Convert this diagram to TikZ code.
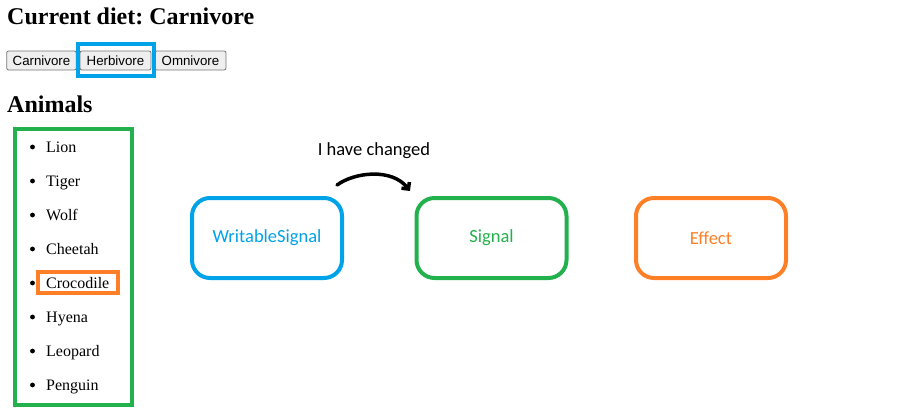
\documentclass[tikz,border=0pt]{standalone}
\usepackage{fontspec}
\setmainfont{Liberation Serif}
\newfontfamily\btnfont{Liberation Sans}
\newfontfamily\calfont{Carlito}
\usepackage{tikz}
\usepackage{xcolor}
\usetikzlibrary{arrows.meta}
\usetikzlibrary{positioning}
\definecolor{pblue}{HTML}{00A2E8}
\definecolor{pgreen}{HTML}{22B14C}
\definecolor{porange}{HTML}{FF7F27}
\definecolor{btngray}{HTML}{EFEFEF}
\definecolor{btnline}{HTML}{767676}
\frenchspacing

\begin{document}
\begin{tikzpicture}[x=1pt, y=-1pt,
  heading/.style={anchor=base west, inner sep=0pt, font=\fontsize{24}{28}\selectfont\bfseries},
  button/.style={draw=btnline, fill=btngray, rounded corners=2pt, line width=0.8pt,
    minimum height=19pt, inner xsep=6pt, inner ysep=0pt, font=\btnfont\fontsize{13.3}{15}\selectfont},
  animal/.style={anchor=base west, inner sep=0pt, font=\fontsize{16}{19}\selectfont},
  sigbox/.style={rounded corners=18pt, line width=4pt, minimum width=150pt, minimum height=80pt,
    font=\calfont\fontsize{18.5}{22}\selectfont},
  hl/.style={line width=4pt}]
\useasboundingbox (0,0) rectangle (898,415);
%Header
\node[heading] (title) at (7,24) {Current diet: Carnivore};
\node[button, minimum width=69pt] (carn) at (41.5,60.5) {Carnivore};
\node[button, minimum width=71pt] (herb) at (115.5,60.5) {Herbivore};
\node[button, minimum width=71pt] (omni) at (190.5,60.5) {Omnivore};
\draw[hl, pblue] (78,44) rectangle (154,76);
\node[heading] (animals) at (7,112) {Animals};

%List
\foreach \name [count=\i from 0] in {Lion,Tiger,Wolf,Cheetah,Crocodile,Hyena,Leopard,Penguin} {
  \fill (32.5,147+34*\i) circle (2.4);
  \node[animal] (a\i) at (46,152.5+34*\i) {\name};
}
\draw[hl, pgreen] (15,129) rectangle (132,405);
\draw[hl, porange] (38,272) rectangle (118,293);

%Signals
\node[sigbox, draw=pblue, text=pblue] (ws) at (267,238) {WritableSignal};
\node[sigbox, draw=pgreen, text=pgreen] (sig) at (491.5,238) {Signal};
\node[sigbox, draw=porange, text=porange] (eff) at (711,238) {Effect};
\node[font=\calfont\fontsize{18.5}{22}\selectfont] (lbl) at (374,151) {I have changed};
\coordinate (from) at (337,185);
\coordinate (to) at (410,191);
\draw[line width=3.5pt, line cap=round, -{Straight Barb[length=5pt, width=10pt]}]
  (from) .. controls (355,172) and (392,168) .. (to);
\end{tikzpicture}
\end{document}
